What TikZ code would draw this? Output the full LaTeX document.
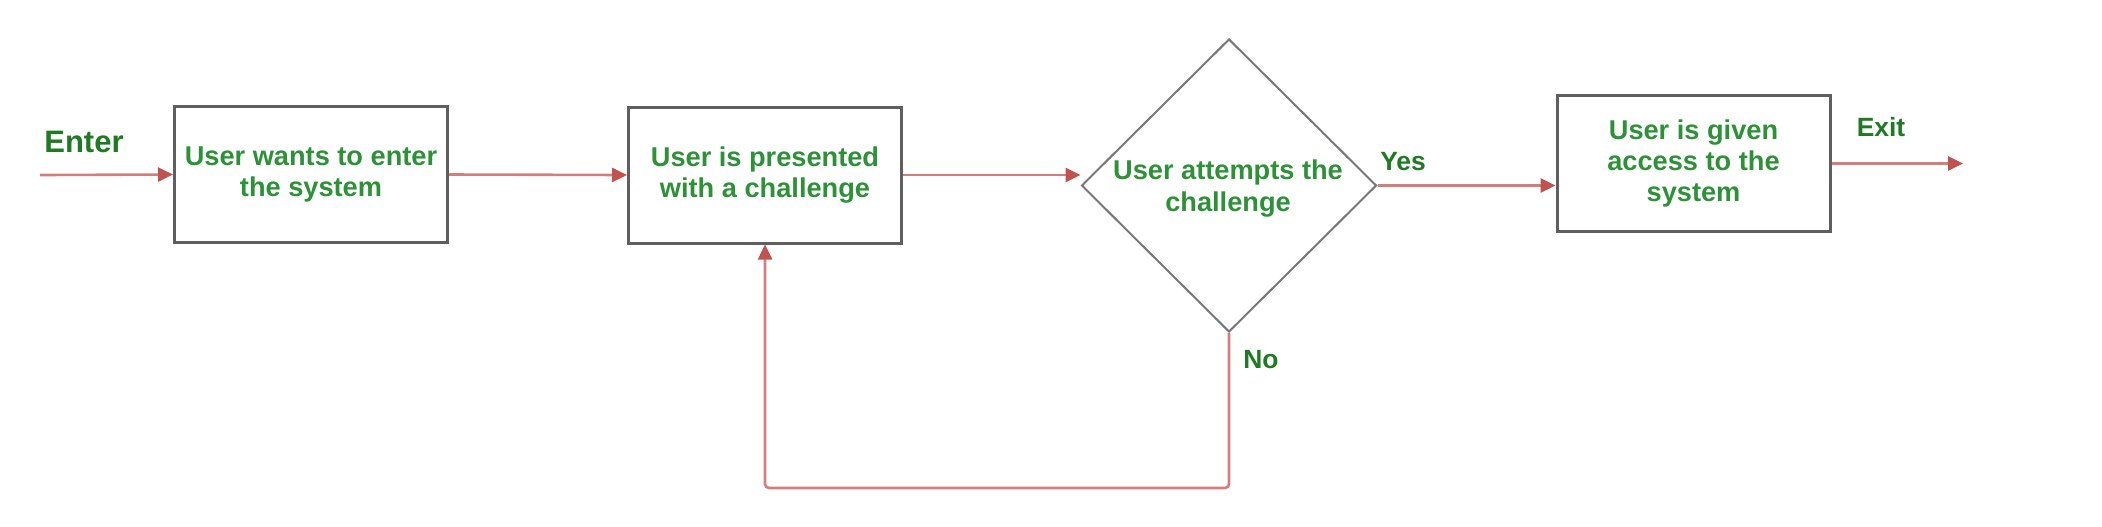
\documentclass[tikz,border=0pt]{standalone}
\usepackage{fontspec}
\setmainfont{Liberation Sans}
\usetikzlibrary{shapes.geometric,arrows.meta}
\definecolor{txtgreen}{RGB}{45,145,55}
\definecolor{lblgreen}{RGB}{30,122,35}
\definecolor{boxgray}{RGB}{95,95,95}
\definecolor{diagray}{RGB}{120,120,120}
\definecolor{linered}{RGB}{212,125,125}
\definecolor{tipred}{RGB}{192,82,80}
\tikzset{
  stepbox/.style={draw=boxgray, line width=1.5pt, rectangle, inner sep=0pt,
    minimum width=136.5pt, minimum height=68pt, align=center,
    font=\bfseries\fontsize{13.6}{15.6}\selectfont, text=txtgreen},
  decbox/.style={draw=diagray, line width=1pt, diamond, inner sep=0pt,
    minimum width=147.5pt, minimum height=146.5pt},
  dectext/.style={align=center, inner sep=0pt,
    font=\bfseries\fontsize{13.6}{16}\selectfont, text=txtgreen},
  lbl/.style={inner sep=0pt, font=\bfseries\fontsize{13.2}{15}\selectfont, text=lblgreen},
  conn/.style={draw=linered, line width=1.3pt,
    -{Triangle[length=7.5pt,width=7pt,color=tipred,fill=tipred]}}
}
\begin{document}
\begin{tikzpicture}[x=0.5pt,y=-0.5pt]
\useasboundingbox (0,0) rectangle (2102,526);
\node[stepbox] (b1) at (311,174.5) {User wants to enter\\the system};
\node[stepbox] (b2) at (765,175) {User is presented\\with a challenge};
\node[decbox] (d) at (1229,185.5) {};
\node[dectext] (dt) at (1228,189) {User attempts the\\challenge};
\node[stepbox] (b4) at (1693.5,163.5) {User is given\\access to the\\system};
\coordinate (start) at (40,175);
\coordinate (exitend) at (1963,163.5);
\coordinate (lc) at (765,488);
\node[lbl, font=\bfseries\fontsize{15.5}{17}\selectfont] (enter) at (84,142) {Enter};
\node[lbl] (yes) at (1403,162) {Yes};
\node[lbl] (no) at (1261,360) {No};
\node[lbl] (exit) at (1881,127) {Exit};
\draw[conn] (start) -- (b1.west);
\draw[conn] (b1.east) -- (b2.west);
\draw[conn] (b2.east) -- (b2.east -| d.west);
\draw[conn] (d.east) -- (d.east -| b4.west);
\draw[conn] (b4.east) -- (exitend);
\draw[conn, rounded corners=2pt] (d.south) |- (lc) -- (b2.south);
\end{tikzpicture}
\end{document}
